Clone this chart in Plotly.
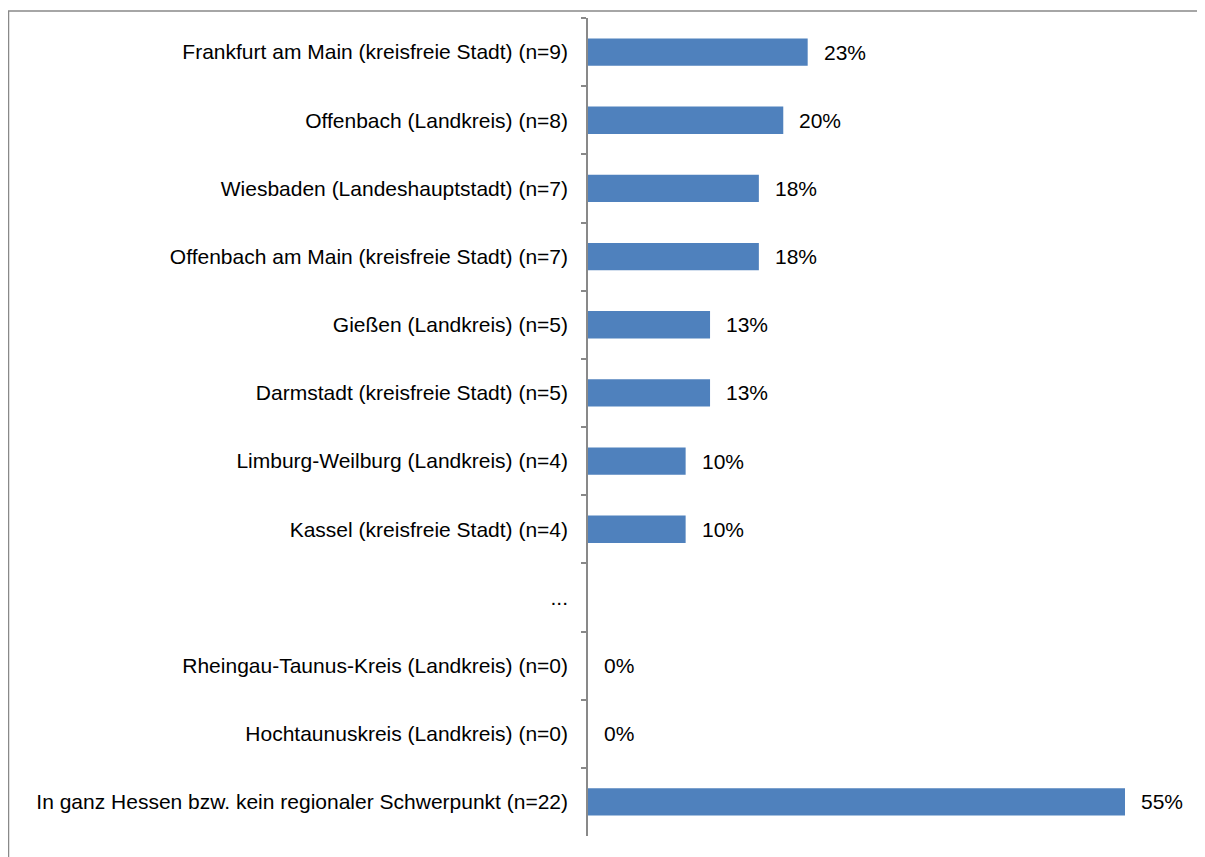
import plotly.graph_objects as go

# categories top to bottom
categories = [
    "Frankfurt am Main (kreisfreie Stadt) (n=9)",
    "Offenbach (Landkreis) (n=8)",
    "Wiesbaden (Landeshauptstadt) (n=7)",
    "Offenbach am Main (kreisfreie Stadt) (n=7)",
    "Gießen (Landkreis) (n=5)",
    "Darmstadt (kreisfreie Stadt) (n=5)",
    "Limburg-Weilburg (Landkreis) (n=4)",
    "Kassel (kreisfreie Stadt) (n=4)",
    "...",
    "Rheingau-Taunus-Kreis (Landkreis) (n=0)",
    "Hochtaunuskreis (Landkreis) (n=0)",
    "In ganz Hessen bzw. kein regionaler Schwerpunkt (n=22)",
]
shares = [22.5, 20.0, 17.5, 17.5, 12.5, 12.5, 10.0, 10.0, None, 0.0, 0.0, 55.0]
value_labels = ["23%", "20%", "18%", "18%", "13%", "13%", "10%", "10%", "", "0%", "0%", "55%"]

BAR = "#4F81BD"
AXIS = "#898989"
FONT = "Liberation Sans, Arial, sans-serif"
FS = 21

# page body adds an 8px margin, so the figure is a bit smaller than the window
W, H = 1197, 849
ML, MR, MT, MB = 580, 15, 10, 21
plot_w = W - ML - MR
x_max = 55.0 * plot_w / 537.0  # 55% bar is ~537px long

fig = go.Figure()
fig.add_trace(
    go.Bar(
        y=categories,
        x=shares,
        orientation="h",
        marker=dict(color=BAR, line=dict(width=0)),
        width=0.4,
        hoverinfo="skip",
    )
)

for cat, val, lab in zip(categories, shares, value_labels):
    if not lab:
        continue
    fig.add_annotation(
        x=val, y=cat, text=lab, showarrow=False,
        xanchor="left", xshift=14,
        font=dict(family=FONT, size=FS, color="#000000"),
    )

# thin grey frame around the chart (right/bottom edges run off the image)
px_x = lambda p: (p - ML) / plot_w
px_y = lambda p: 1 - (p - MT) / (H - MT - MB)
fig.add_shape(
    type="rect", xref="paper", yref="paper",
    x0=px_x(0.5), x1=px_x(1210), y0=px_y(870), y1=px_y(3),
    line=dict(color=AXIS, width=1.5), fillcolor="rgba(0,0,0,0)", layer="below",
)

fig.update_yaxes(
    autorange="reversed",
    showline=True, linecolor=AXIS, linewidth=1.5,
    ticks="outside", tickson="boundaries", ticklen=5, tickcolor=AXIS, tickwidth=1.5,
    showgrid=False, zeroline=False,
    tickfont=dict(family=FONT, size=FS, color="#000000"),
    ticklabelstandoff=14,
)
fig.update_xaxes(
    range=[0, x_max], visible=False, showgrid=False, zeroline=False,
)
fig.update_layout(
    width=W, height=H,
    margin=dict(l=ML, r=MR, t=MT, b=MB, autoexpand=False),
    plot_bgcolor="white", paper_bgcolor="white",
    showlegend=False,
    font=dict(family=FONT, size=FS, color="#000000"),
)

fig.write_html("out.html")
